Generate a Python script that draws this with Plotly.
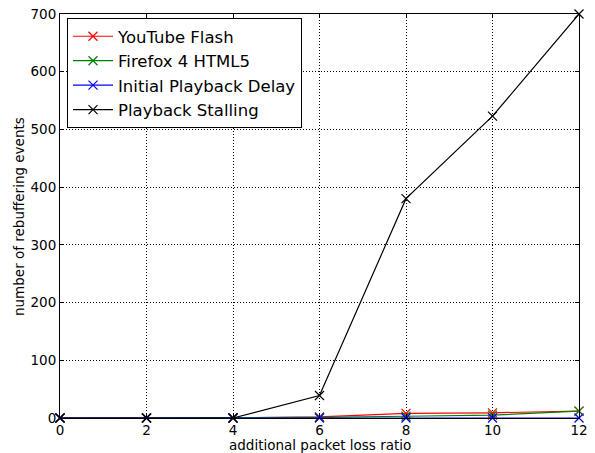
import plotly.graph_objects as go

# additional packet loss ratio (x) and rebuffering event counts per series
loss_ratio = [0, 2, 4, 6, 8, 10, 12]
youtube_flash = [0, 0, 0, 2, 8, 9, 12]
firefox_html5 = [0, 0, 0, 1, 3, 5, 12]
initial_delay = [0, 0, 0, 0, 0, 0, 0]
playback_stalling = [0, 0, 0, 39, 380, 523, 700]

x_ticks = [0, 2, 4, 6, 8, 10, 12]
y_ticks = [0, 100, 200, 300, 400, 500, 600, 700]

series = [
    ("YouTube Flash", youtube_flash, "#ff0000"),
    ("Firefox 4 HTML5", firefox_html5, "#008000"),
    ("Initial Playback Delay", initial_delay, "#0000ff"),
    ("Playback Stalling", playback_stalling, "#000000"),
]

fig = go.Figure()
for name, values, color in series:
    fig.add_trace(go.Scatter(
        x=loss_ratio, y=values, name=name, mode="lines+markers",
        line=dict(color=color, width=1.2),
        marker=dict(symbol="x-thin", size=9, line=dict(color=color, width=1.2)),
        cliponaxis=False,
    ))

title_font = dict(family="DejaVu Sans", size=13.5, color="black")
axis_common = dict(
    showline=True, linecolor="black", linewidth=1, mirror="ticks",
    ticks="inside", ticklen=4, tickcolor="black", tickwidth=1,
    showgrid=True, gridcolor="black", gridwidth=0.6, griddash="1px,2px",
    zeroline=False, automargin=False, ticklabelstandoff=0,
    tickfont=dict(family="DejaVu Sans", size=13.5, color="black"),
)

fig.update_xaxes(range=[0, 12], tickvals=x_ticks, ticktext=[str(v) for v in x_ticks],
                 **axis_common)
fig.update_yaxes(range=[0, 700], tickvals=y_ticks, ticktext=[str(v) for v in y_ticks],
                 **axis_common)

# axis titles
fig.add_annotation(text="additional packet loss ratio", xref="paper", yref="paper",
                   x=0.5, y=-0.068, xanchor="center", yanchor="middle",
                   showarrow=False, font=title_font)
fig.add_annotation(text="number of rebuffering events", xref="paper", yref="paper",
                   x=-0.079, y=0.5, xanchor="center", yanchor="middle",
                   textangle=-90, showarrow=False, font=title_font)

fig.update_layout(
    width=595, height=453,
    margin=dict(l=60, r=16, t=14, b=35),
    paper_bgcolor="white", plot_bgcolor="white",
    showlegend=True,
    legend=dict(
        x=0.0135, y=0.99, xanchor="left", yanchor="top",
        bgcolor="white", bordercolor="black", borderwidth=1,
        font=dict(family="DejaVu Sans", size=16.5, color="black"),
        itemwidth=40,
    ),
)

fig.write_html("out.html")
